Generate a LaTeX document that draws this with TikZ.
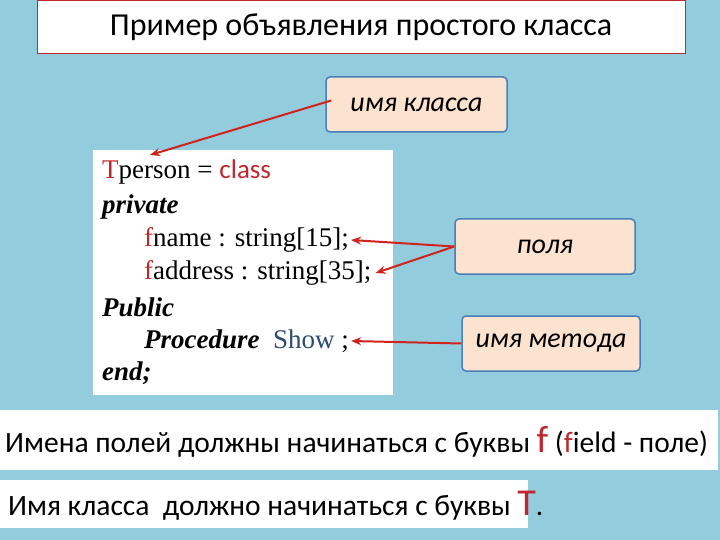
\documentclass[tikz,border=0pt]{standalone}
\usepackage{fontspec}
\setmainfont{Liberation Serif}
\newfontfamily\calfont{Carlito}
\usetikzlibrary{arrows.meta}
\definecolor{bg}{HTML}{93CDDD}
\definecolor{peach}{HTML}{FBE3D0}
\definecolor{bord}{HTML}{4A7EBB}
\definecolor{ared}{HTML}{D0231E}
\definecolor{dred}{HTML}{C0282D}
\begin{document}
\begin{tikzpicture}[x=1pt,y=-1pt,
  lbl/.style={draw=bord,line width=1.5pt,fill=peach,rounded corners=4pt,font=\calfont\itshape\fontsize{28}{30}\selectfont,inner sep=0pt},
  code/.style={anchor=west,inner sep=0pt,font=\fontsize{27}{29}\selectfont},
  arr/.style={draw=ared,line width=2pt,-{Stealth[length=10pt,width=8pt]}}]
\fill[bg] (0,0) rectangle (720,540);
\useasboundingbox (0,0) rectangle (720,540);
\node[draw=dred,line width=1pt,fill=white,minimum width=648pt,minimum height=53pt,font=\calfont\fontsize{32}{34}\selectfont] (title) at (361,27) {Пример объявления простого класса};
\node[lbl,minimum width=181pt,minimum height=55pt] (cls) at (416.5,104.5) {имя класса};
\node[lbl,minimum width=180pt,minimum height=55pt] (fld) at (545,246.5) {поля};
\node[lbl,minimum width=178pt,minimum height=55pt] (meth) at (551,343.5) {имя метода};
\node[fill=white,minimum width=300pt,minimum height=245pt,inner sep=0pt] (codebox) at (243,272.5) {};
\node[code] (l1) at (102,172) {\textcolor{dred}{T}person = {\calfont\textcolor{dred}{class}}};
\node[code] (l2) at (102,207) {\textbf{\textit{private}}};
\node[code] (l3) at (144,240) {\textcolor{dred}{f}name : string[15];};
\node[code] (l4) at (144,273) {\textcolor{dred}{f}address : string[35];};
\node[code] (l5) at (102,307) {\textbf{\textit{Public}}};
\node[code] (l6) at (144,341) {\textbf{\textit{Procedure}}\ \ \textcolor{bord!60!black}{Show} ;};
\node[code] (l7) at (102,373) {\textbf{\textit{end;}}};
\coordinate (t1) at (150,155);
\node[fill=white,minimum width=718pt,minimum height=60pt,inner sep=0pt] (b1) at (359,440) {};
\node[anchor=west,inner sep=0pt,font=\calfont\fontsize{29.5}{32}\selectfont] (b1t) at (5,442) {Имена полей должны начинаться с буквы \textcolor{dred}{\fontsize{38}{38}\selectfont f} (\textcolor{dred}{f}ield - поле)};
\node[fill=white,minimum width=528pt,minimum height=48pt,inner sep=0pt] (b2) at (264,504) {};
\node[anchor=west,inner sep=0pt,font=\calfont\fontsize{29.5}{32}\selectfont] (b2t) at (8,506) {Имя класса\ \ должно начинаться с буквы \textcolor{dred}{\fontsize{38}{38}\selectfont T}.};
\draw[arr] (cls.west) ++(6,-4) -- (t1);
\draw[arr] (fld.west) -- ([xshift=2pt]l3.east);
\draw[arr] (fld.west) -- ([xshift=4pt]l4.east);
\draw[arr] (meth.west) -- ([xshift=2pt]l6.east);
\end{tikzpicture}
\end{document}
